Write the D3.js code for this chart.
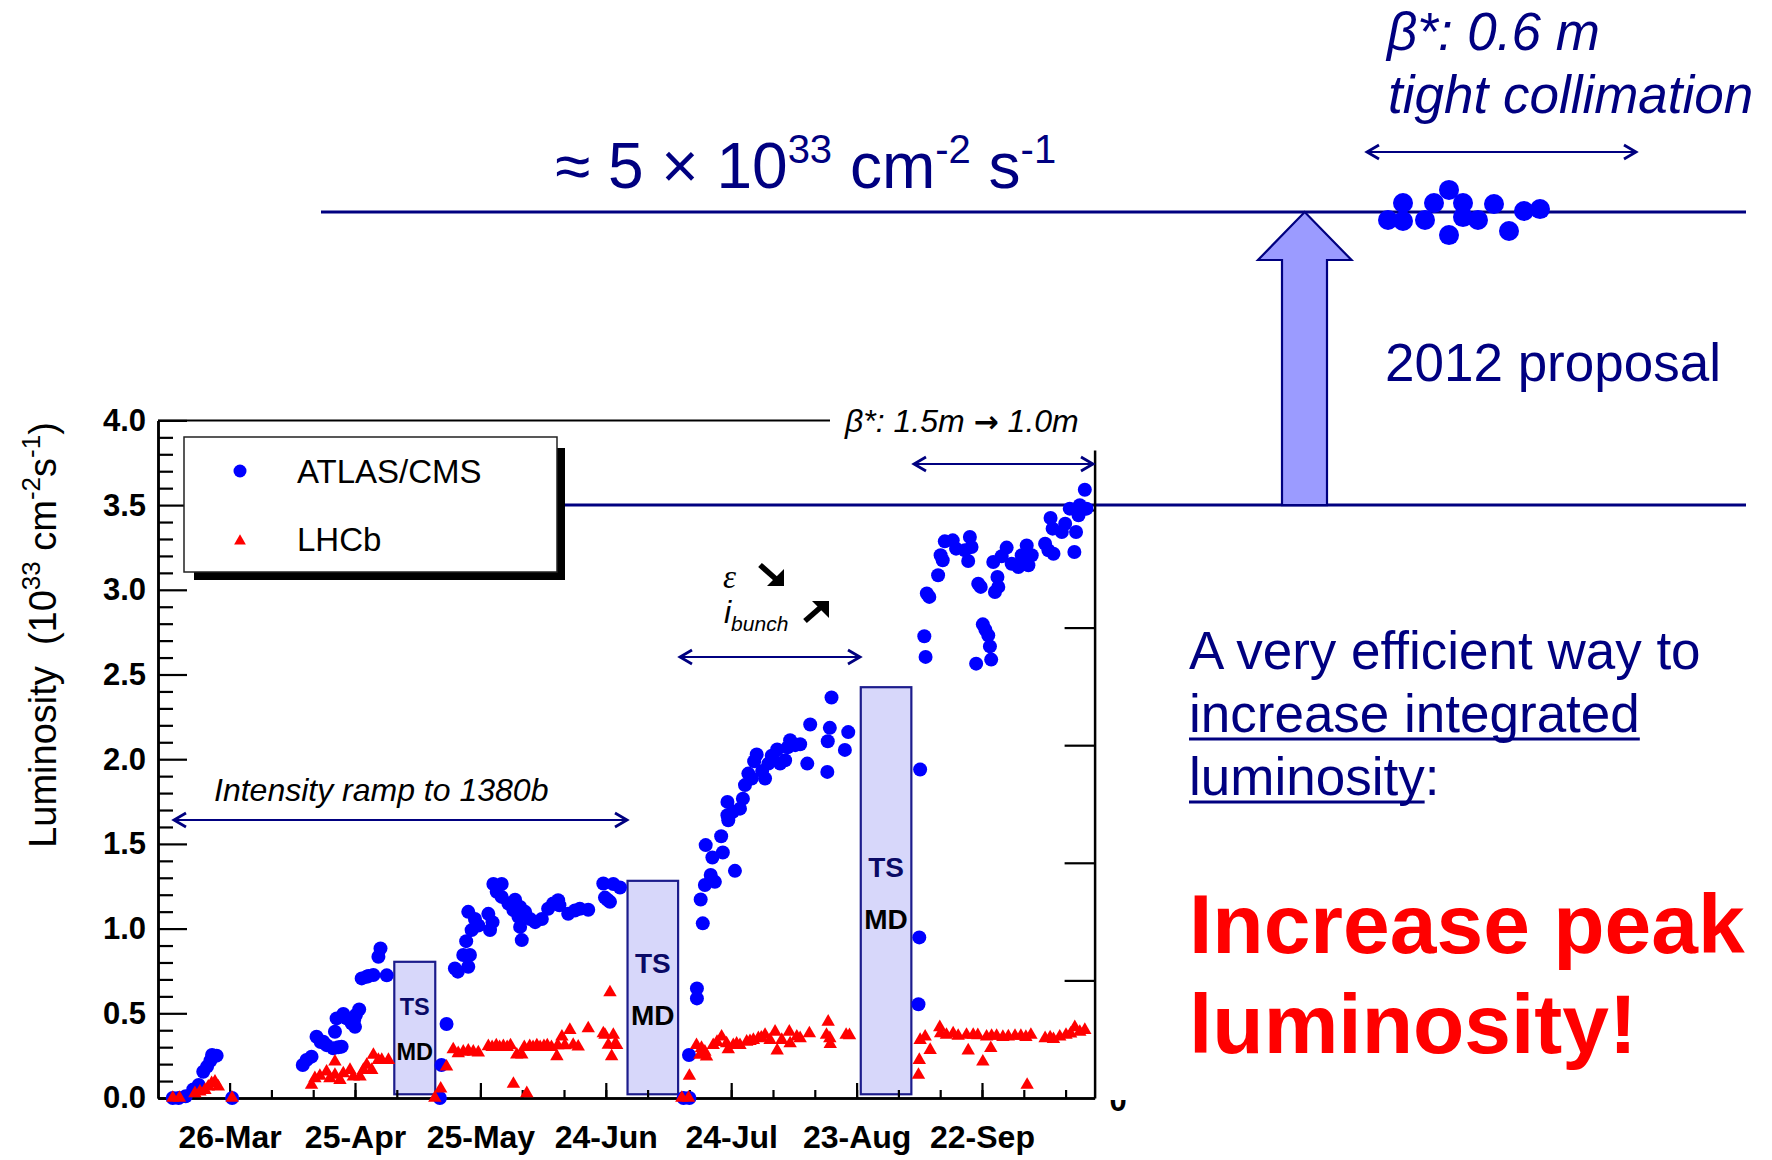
<!DOCTYPE html>
<html><head><meta charset="utf-8">
<script src="https://cdn.jsdelivr.net/npm/d3@7"></script>
<style>
html,body{margin:0;padding:0;background:#fff;}
svg{display:block;font-family:"Liberation Sans",Arial,Helvetica,sans-serif;}
text{white-space:pre;}
</style></head><body>
<svg id="chart" width="1772" height="1160"></svg>
<script>
// ---------------- data ----------------
// days counted from 26-Mar-2011, luminosity in 1e33 cm^-2 s^-1
const baseDate = "2011-03-26";
const dateTickLabels = ["26-Mar","25-Apr","25-May","24-Jun","24-Jul","23-Aug","22-Sep"];
const dateTickDays = [0,30,60,90,120,150,180];
const minorTickDays = [-10,0,10,20,30,40,50,60,70,80,90,100,110,120,130,140,150,160,170,180,190,200];
const yTickValues = [0,0.5,1.0,1.5,2.0,2.5,3.0,3.5,4.0];
const yMinorTicks = [0.1,0.2,0.3,0.4,0.6,0.7,0.8,0.9,1.1,1.2,1.3,1.4,1.6,1.7,1.8,1.9,2.1,2.2,2.3,2.4,2.6,2.7,2.8,2.9,3.1,3.2,3.3,3.4,3.6,3.7,3.8,3.9];
const rightTicks = [1,2,3,4,5];

const atlasCms = [
 [-13.6,0],[-12.2,0],[-10.5,0.01],[-8.7,0.05],[-7.4,0.077],[-6.3,0.155],[-5.4,0.185],[-4.6,0.22],[-4.2,0.254],[-3.1,0.25],[0.6,0],
 [17.5,0.195],[18.4,0.224],[19.6,0.244],[20.8,0.362],[21.8,0.33],[22.4,0.332],[23.2,0.312],[24.8,0.293],[26,0.3],[26.8,0.303],[25.2,0.391],[25.6,0.47],[27.2,0.496],[28,0.47],[29.2,0.441],[30,0.42],[29.8,0.46],[30.2,0.49],[31,0.523],[31.6,0.706],[32.8,0.716],[33.2,0.72],[34.4,0.726],[35.6,0.834],[36.1,0.883],[37.6,0.724],
 [50.3,0],[50.7,0.195],[51.9,0.437],[53.9,0.765],[54.6,0.746],[55.9,0.844],[57.1,0.775],[57.5,0.844],[56.6,0.926],[57.9,0.991],[57.1,1.099],[58.7,1.057],[59.5,1.018],[61.9,1.087],[62.9,1.038],[62.3,0.991],[63.1,1.263],[65.1,1.263],[63.9,1.217],[65.1,1.187],[66.7,1.148],[68.3,1.171],[67.9,1.109],[69.5,1.128],[70.7,1.099],[69.5,1.01],[69.9,0.932],[69.1,1.07],[71.9,1.057],[73.1,1.038],[74.7,1.057],[76.2,1.117],[77.4,1.148],[78.6,1.168],[78.9,1.138],[81,1.087],[82.6,1.107],[83.8,1.117],[85.8,1.111],[89.4,1.266],[91.8,1.263],[93.4,1.243],[89.8,1.183],[91,1.158],[90.4,1.17],
 [108.6,0],[110,0],[109.9,0.254],[111.8,0.647],[111.8,0.588],[112.7,1.172],[113.2,1.031],[113.7,1.257],[115.1,1.316],[116.1,1.276],[113.9,1.493],[115.5,1.42],[118,1.449],[117.6,1.545],[120.9,1.341],[119.1,1.748],[119.1,1.669],[119.3,1.64],[120.4,1.69],[122.1,1.708],[122.8,1.767],[123.3,1.847],[124.1,1.915],[124.9,1.886],[125.5,1.988],[126.1,2.028],[127.4,1.93],[128.1,1.886],[128.9,1.974],[129.7,2.02],[130.1,1.994],[131,2.057],[131.7,1.974],[132.9,1.994],[133.5,2.07],[134.1,2.112],[135.3,2.083],[136.5,2.088],[138.9,2.205],[138.2,1.974],[143.6,2.185],[143.1,2.106],[143,1.925],[144,2.364],[148,2.16],[147.2,2.055],
 [165.2,1.939],[165,0.948],[164.8,0.553],
 [166.2,2.726],[166.5,2.604],[166.8,2.978],[167.4,2.958],[169.5,3.086],[170.1,3.204],[170.6,3.174],[171.1,3.286],[173,3.292],[173.8,3.243],[175.9,3.233],[177.1,3.312],[177.5,3.253],[176.7,3.17],[179.1,3.036],[179.7,3.017],[178.6,2.564],[180.2,2.796],[180.8,2.765],[181.5,2.731],[181.9,2.666],[182.2,2.588],[182.7,3.164],[183.1,2.987],[183.9,3.017],[183.7,3.076],[184.7,3.198],[185.9,3.249],[187.1,3.154],[188.7,3.135],[189.5,3.204],[190.7,3.262],[191.1,3.145],[191.9,3.204],[195.1,3.272],[195.9,3.233],[197.1,3.213],[196.4,3.424],[196.9,3.361],[199.1,3.341],[199.9,3.39],[202.1,3.223],[202.5,3.341],[201,3.479],[203.1,3.44],[203.4,3.499],[204.4,3.479],[204.6,3.591],[205,3.479]
];

const lhcb = [
 [-13.6,0],[-12,0],[-8.3,0.028],[-7.1,0.037],[-5.9,0.047],[-5.1,0.067],[-4.3,0.087],[-3.5,0.096],[-2.7,0.067],[0.6,0],
 [19.6,0.077],[20.4,0.116],[21.6,0.13],[23.2,0.155],[24,0.116],[25.2,0.214],[25.2,0.136],[26.4,0.106],[27.2,0.145],[28.8,0.165],[29.6,0.126],[31.2,0.126],[32,0.165],[32.8,0.195],[34,0.165],[34.4,0.254],[35.6,0.224],[36.4,0.224],[38,0.224],
 [49.1,0],[50.5,0.055],[51.9,0.185],[53.5,0.287],[54.7,0.264],[55.9,0.273],[57.1,0.279],[58.3,0.273],[59.5,0.268],[61.9,0.305],[62.8,0.3],[63.8,0.31],[64.6,0.3],[65.5,0.305],[66.4,0.3],[67.2,0.31],[67.9,0.083],[68.7,0.256],[69.9,0.256],[70.5,0.3],[71.1,0.028],[71.8,0.305],[72.6,0.3],[73.5,0.31],[74.3,0.3],[75.2,0.305],[76,0.31],[77,0.3],[78.3,0.246],[78.5,0.31],[79.5,0.362],[80.2,0.31],[81.4,0.401],[82.2,0.313],[83.4,0.303],[85.8,0.411],[89.4,0.381],[89.8,0.372],[91,0.623],[91.8,0.372],[90.6,0.313],[92.2,0.317],[91.4,0.246],[92.6,0.312],
 [108.2,0],[109.8,0],[110,0.13],[111.7,0.312],[112.5,0.254],[112.9,0.295],[113.7,0.273],[114.1,0.244],[115.7,0.312],[116.6,0.33],[117.7,0.362],[118.9,0.322],[119.3,0.287],[120.5,0.312],[121.3,0.32],[122.1,0.312],[123.7,0.332],[124.5,0.335],[125.3,0.342],[126.5,0.352],[127.2,0.355],[128.1,0.372],[129.3,0.342],[130.5,0.391],[131,0.28],[132.1,0.342],[133.9,0.391],[134.1,0.322],[135.7,0.362],[136.5,0.352],[138.7,0.381],[143.2,0.45],[142.8,0.372],[143.6,0.352],[143.7,0.318],[147.5,0.372],[148.3,0.37],
 [164.8,0.136],[165,0.224],[165.2,0.342],[166.4,0.362],[167.6,0.283],[169.9,0.417],[170.1,0.381],[171.5,0.372],[173.1,0.381],[174.3,0.366],[176.3,0.372],[176.7,0.28],[177.9,0.372],[179,0.37],[180.2,0.214],[181.1,0.362],[182.1,0.294],[182.3,0.366],[183.5,0.366],[185,0.36],[186.3,0.363],[187.9,0.366],[189.3,0.366],[190.5,0.36],[190.8,0.077],[191.7,0.372],[195.1,0.352],[196.3,0.357],[197.1,0.347],[198.6,0.362],[200.1,0.372],[201.2,0.38],[202.2,0.417],[203.4,0.39],[204.6,0.401]
];

// technical stops / machine development periods: [startDay, endDay, top]
const stopStart = [39.4, 95.2, 151.0];
const stopEnd = [49.2, 107.3, 163.1];
const stopTop = [0.804, 1.282, 2.425];
const stopBottom = 0.022;

// 2012 proposal points (relative day, luminosity)
const projDay = [0,2.96,2.96,7.3,9.08,12.04,12.04,14.8,14.8,17.76,20.92,23.88,26.84,30];
const projLumi = [4.959,5.046,4.954,4.959,5.046,5.113,4.882,5.046,4.974,4.959,5.041,4.903,5.005,5.015];

// ---------------- drawing ----------------
const NAVY = "#000080";
const svg = d3.select("#chart");
const base = new Date(baseDate + "T00:00:00Z");
const toDate = d => new Date(base.getTime() + d * 864e5);

const x = d3.scaleTime().domain([toDate(-17.13), toDate(206.94)]).range([158, 1094.6]);
const y = d3.scaleLinear().domain([0, 4]).range([1098, 420.4]);
const yR = d3.scaleLinear().domain([0, 5.51]).range([1098, 450]);
const xP = d3.scaleLinear().domain([0, 30]).range([1388, 1540]);
const yP = d3.scaleLinear().domain([3.5, 5]).range([y(3.5), 212]);

// horizontal reference lines
svg.append("line").attr("x1", 321).attr("x2", 1746).attr("y1", yP(5)).attr("y2", yP(5))
  .attr("stroke", NAVY).attr("stroke-width", 3);
svg.append("line").attr("x1", 540).attr("x2", 1746).attr("y1", y(3.5)).attr("y2", y(3.5))
  .attr("stroke", NAVY).attr("stroke-width", 3);

// big arrow
const ay0 = y(3.5), ay1 = yP(5);
svg.append("path")
  .attr("d", `M1282,${ay0} L1282,${ay1+48} L1258,${ay1+48} L1304.7,${ay1} L1351.5,${ay1+48} L1327,${ay1+48} L1327,${ay0} Z`)
  .attr("fill", "#9b9bff").attr("stroke", NAVY).attr("stroke-width", 2.2);

// stop boxes
const boxes = svg.append("g");
stopStart.forEach((s, i) => {
  const x0 = x(toDate(s)), x1 = x(toDate(stopEnd[i]));
  boxes.append("rect").attr("x", x0).attr("y", y(stopTop[i]))
    .attr("width", x1 - x0).attr("height", y(stopBottom) - y(stopTop[i]))
    .attr("fill", "#d7d7fa").attr("stroke", "#1c1c8c").attr("stroke-width", 2.2);
  const fs = i === 0 ? 23.5 : 28;
  const cx = (x0 + x1) / 2;
  const tsY = i === 0 ? 1015 : (i === 1 ? 973 : 877);
  const gap = i === 0 ? 44.5 : 52;
  boxes.append("text").attr("x", cx).attr("y", tsY).attr("text-anchor", "middle")
    .attr("font-size", fs).attr("font-weight", "bold").attr("fill", "#0a0a66").text("TS");
  boxes.append("text").attr("x", cx).attr("y", tsY + gap).attr("text-anchor", "middle")
    .attr("font-size", fs).attr("font-weight", "bold").attr("fill", "#000").text("MD");
});

// axes
const axisStyle = g => {
  g.select(".domain").attr("stroke", "#000").attr("stroke-width", 2.5);
  g.selectAll(".tick line").attr("stroke", "#000").attr("stroke-width", 2.2);
};
svg.append("g").attr("transform", "translate(158,0)")
  .call(d3.axisLeft(y).tickValues(yMinorTicks).tickSize(-15).tickSizeOuter(0).tickFormat(""))
  .call(axisStyle);
const yAx = svg.append("g").attr("transform", "translate(158,0)")
  .call(d3.axisLeft(y).tickValues(yTickValues).tickSize(-29).tickSizeOuter(0).tickPadding(12).tickFormat(d3.format(".1f")))
  .call(axisStyle);
yAx.selectAll("text").attr("font-size", 31).attr("font-weight", "bold").attr("fill", "#000")
  .attr("font-family", "'Liberation Sans',Arial,sans-serif");

svg.append("g").attr("transform", `translate(0,${y(0)})`)
  .call(d3.axisBottom(x).tickValues(minorTickDays.map(toDate)).tickSize(-8).tickSizeOuter(0).tickFormat(""))
  .call(axisStyle);
const xAx = svg.append("g").attr("transform", `translate(0,${y(0)})`)
  .call(d3.axisBottom(x).tickValues(dateTickDays.map(toDate)).tickSize(-15).tickSizeOuter(0).tickPadding(27)
    .tickFormat((d, i) => dateTickLabels[i]))
  .call(axisStyle);
xAx.selectAll("text").attr("font-size", 32).attr("font-weight", "bold").attr("fill", "#000")
  .attr("font-family", "'Liberation Sans',Arial,sans-serif");

svg.append("g").attr("transform", "translate(1094.6,0)")
  .call(d3.axisRight(yR).tickValues(rightTicks).tickSize(-30).tickSizeOuter(0).tickFormat(""))
  .call(axisStyle);

// clipped label remnant at lower right
svg.append("clipPath").attr("id", "remn").append("rect").attr("x", 1100).attr("y", 1100).attr("width", 40).attr("height", 14);
svg.append("text").attr("x", 1118).attr("y", 1111).attr("text-anchor", "middle").attr("font-size", 31)
  .attr("font-weight", "bold").attr("clip-path", "url(#remn)").text("0");

// top frame line
svg.append("line").attr("x1", 158).attr("x2", 830).attr("y1", y(4)).attr("y2", y(4))
  .attr("stroke", "#000").attr("stroke-width", 2);

// data markers
svg.append("g").selectAll("circle").data(atlasCms).join("circle")
  .attr("cx", d => x(toDate(d[0]))).attr("cy", d => y(d[1])).attr("r", 7).attr("fill", "#0000ff");
const tri = d3.symbol().type(d3.symbolTriangle).size(78);
svg.append("g").selectAll("path").data(lhcb).join("path")
  .attr("transform", d => `translate(${x(toDate(d[0]))},${y(d[1])})`).attr("d", tri).attr("fill", "#ff0000");

// projection points
svg.append("g").selectAll("circle").data(projDay).join("circle")
  .attr("cx", d => xP(d)).attr("cy", (d, i) => yP(projLumi[i])).attr("r", 10).attr("fill", "#0000ff");

// legend
svg.append("rect").attr("x", 194).attr("y", 448).attr("width", 371).attr("height", 132).attr("fill", "#000");
svg.append("rect").attr("x", 184).attr("y", 437).attr("width", 373).attr("height", 135)
  .attr("fill", "#fff").attr("stroke", "#222").attr("stroke-width", 1.5);
svg.append("circle").attr("cx", 240).attr("cy", 471).attr("r", 6.5).attr("fill", "#0000ff");
svg.append("path").attr("transform", "translate(240,541)").attr("d", d3.symbol().type(d3.symbolTriangle).size(60)).attr("fill", "#ff0000");
svg.append("text").attr("x", 297).attr("y", 483).attr("font-size", 33).text("ATLAS/CMS");
svg.append("text").attr("x", 297).attr("y", 551).attr("font-size", 33).text("LHCb");

// y axis title
const yt = svg.append("text").attr("transform", "translate(56,635) rotate(-90)")
  .attr("text-anchor", "middle").attr("font-size", 38).attr("fill", "#000");
yt.append("tspan").text("Luminosity  (10");
yt.append("tspan").attr("font-size", 26).attr("dy", -16).text("33");
yt.append("tspan").attr("dy", 16).text(" cm");
yt.append("tspan").attr("font-size", 26).attr("dy", -16).text("-2");
yt.append("tspan").attr("dy", 16).text("s");
yt.append("tspan").attr("font-size", 26).attr("dy", -16).text("-1");
yt.append("tspan").attr("dy", 16).text(")");

// double arrows
function dblArrow(x1, x2, yy) {
  const g = svg.append("g").attr("stroke", NAVY).attr("stroke-width", 2.2).attr("fill", "none");
  g.append("line").attr("x1", x1).attr("x2", x2).attr("y1", yy).attr("y2", yy);
  g.append("path").attr("d", `M${x1+12},${yy-7} L${x1},${yy} L${x1+12},${yy+7}`).attr("stroke-width", 2.8);
  g.append("path").attr("d", `M${x2-12},${yy-7} L${x2},${yy} L${x2-12},${yy+7}`).attr("stroke-width", 2.8);
}
dblArrow(174, 627, 820);
dblArrow(680, 860, 657);
dblArrow(914, 1093, 464);
dblArrow(1367, 1636, 152);

// chart annotations
svg.append("text").attr("x", 214).attr("y", 801).attr("font-size", 32).attr("font-style", "italic").text("Intensity ramp to 1380b");
const bt = svg.append("text").attr("x", 845).attr("y", 432).attr("font-size", 32).attr("font-style", "italic");
bt.append("tspan").text("β*: 1.5m ");
bt.append("tspan").attr("font-family", "'DejaVu Sans',sans-serif").attr("font-style", "normal").attr("font-weight", "bold").attr("font-size", 30).text("→");
bt.append("tspan").text(" 1.0m");
svg.append("text").attr("x", 723).attr("y", 588).attr("font-size", 33).attr("font-style", "italic")
  .attr("font-family", "'Liberation Serif',serif").text("ε");
const ib = svg.append("text").attr("x", 724).attr("y", 623).attr("font-size", 32).attr("font-style", "italic");
ib.append("tspan").text("i");
ib.append("tspan").attr("font-size", 21).attr("dy", 8).text("bunch");
// bold arrows (down-right, up-right)
svg.append("line").attr("x1", 760).attr("y1", 565).attr("x2", 777).attr("y2", 580).attr("stroke", "#000").attr("stroke-width", 5.5);
svg.append("path").attr("d", "M784,586 L784,569 L767,586 Z").attr("fill", "#000");
svg.append("line").attr("x1", 805).attr("y1", 621).attr("x2", 821).attr("y2", 607).attr("stroke", "#000").attr("stroke-width", 5.5);
svg.append("path").attr("d", "M829,601 L812,601 L829,618 Z").attr("fill", "#000");

// upper annotations
const big = svg.append("text").attr("x", 555).attr("y", 188).attr("font-size", 64).attr("fill", NAVY);
big.append("tspan").text("≈ 5 × 10");
big.append("tspan").attr("font-size", 40).attr("dy", -25).text("33");
big.append("tspan").attr("dy", 25).text(" cm");
big.append("tspan").attr("font-size", 40).attr("dy", -25).text("-2");
big.append("tspan").attr("dy", 25).text(" s");
big.append("tspan").attr("font-size", 40).attr("dy", -25).text("-1");

svg.append("text").attr("x", 1387).attr("y", 50).attr("font-size", 53).attr("font-style", "italic").attr("fill", NAVY).text("β*: 0.6 m");
svg.append("text").attr("x", 1388).attr("y", 113).attr("font-size", 53).attr("font-style", "italic").attr("fill", NAVY).text("tight collimation");
svg.append("text").attr("x", 1385).attr("y", 381).attr("font-size", 53).attr("fill", NAVY).text("2012 proposal");

svg.append("text").attr("x", 1189).attr("y", 669).attr("font-size", 53).attr("fill", NAVY).text("A very efficient way to");
const t2 = svg.append("text").attr("x", 1189).attr("y", 732).attr("font-size", 53).attr("fill", NAVY).text("increase integrated");
const w2 = t2.node().getComputedTextLength();
svg.append("line").attr("x1", 1189).attr("x2", 1189 + w2).attr("y1", 739).attr("y2", 739).attr("stroke", NAVY).attr("stroke-width", 3);
const t3 = svg.append("text").attr("x", 1189).attr("y", 795).attr("font-size", 53).attr("fill", NAVY).text("luminosity");
const w3 = t3.node().getComputedTextLength();
svg.append("line").attr("x1", 1189).attr("x2", 1189 + w3).attr("y1", 802).attr("y2", 802).attr("stroke", NAVY).attr("stroke-width", 3);
svg.append("text").attr("x", 1189 + w3).attr("y", 795).attr("font-size", 53).attr("fill", NAVY).text(":");

svg.append("text").attr("x", 1189).attr("y", 953).attr("font-size", 84).attr("font-weight", "bold").attr("fill", "#ff0000").text("Increase peak");
svg.append("text").attr("x", 1189).attr("y", 1053).attr("font-size", 84).attr("font-weight", "bold").attr("fill", "#ff0000").text("luminosity!");
</script>
</body></html>
